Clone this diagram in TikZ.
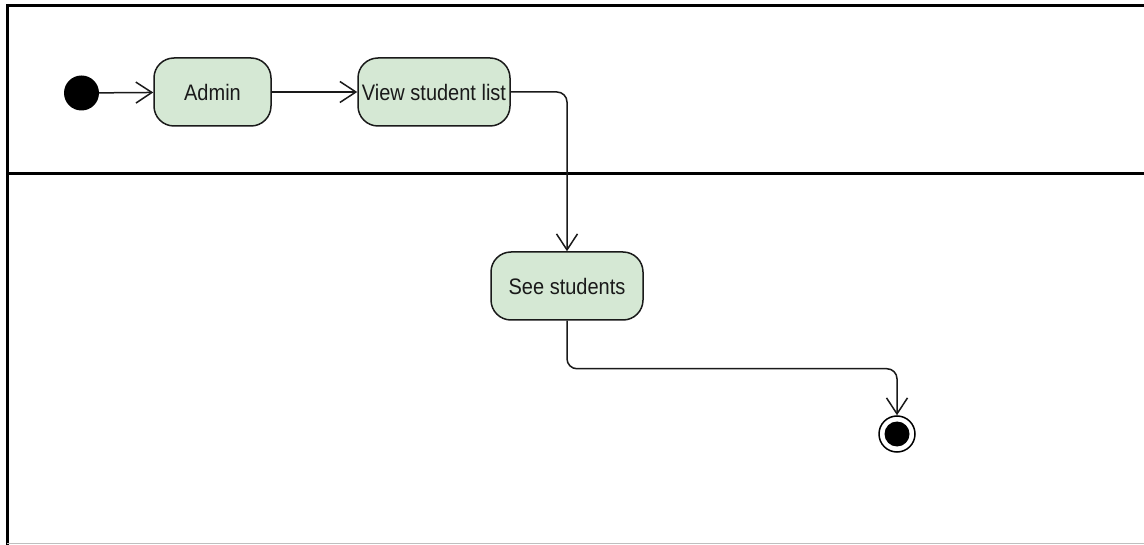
\documentclass[tikz,border=0pt]{standalone}
\usepackage{fontspec}
\setmainfont{Liberation Sans}
\usetikzlibrary{arrows.meta}
\definecolor{actfill}{HTML}{D5E8D4}
\definecolor{ink}{HTML}{1A1A1A}
\tikzset{
  activity/.style={draw=ink, line width=1.5pt, fill=actfill, rounded corners=20pt,
    minimum height=68pt, inner sep=1pt, text=ink,
    font=\fontsize{20}{23}\selectfont},
  flow/.style={draw=ink, line width=1.5pt, rounded corners=10pt,
    -{Straight Barb[length=16pt, width=21pt, line width=1.5pt]}},
  lane/.style={draw=black, line width=3pt},
}
\begin{document}
\begin{tikzpicture}[x=1pt, y=-1pt]
  \useasboundingbox (0,0) rectangle (1144,545);
  \fill[white] (0,0) rectangle (1144,545);

  % swimlane borders
  \draw[lane] (1144,6) -- (7,6) -- (7,545);
  \draw[lane] (7,174) -- (1144,174);
  \draw[black!25, line width=1.5pt] (7,543.5) -- (1144,543.5);

  % start and end markers
  \node[circle, fill=black, minimum size=35pt, inner sep=0pt] (start) at (81.5,93) {};
  \node[circle, draw=black, line width=1.5pt, minimum size=36pt, inner sep=0pt] (fin) at (897,434) {};
  \fill[black] (fin.center) circle (12.5pt);

  % activities
  \node[activity, minimum width=117pt] (admin) at (212.5,92) {\scalebox{1}[1.12]{Admin}};
  \node[activity, minimum width=152pt] (view) at (434,92) {\scalebox{1}[1.12]{View student list}};
  \node[activity, minimum width=152pt] (see) at (567,286) {\scalebox{1}[1.12]{See students}};

  % control flow
  \draw[flow] (start) -- (admin);
  \draw[flow] (admin) -- (view);
  \draw[flow] (view.east) -| (see.north);
  \draw[flow] (see.south) -- ++(0,48) -| (fin.north);
\end{tikzpicture}
\end{document}
